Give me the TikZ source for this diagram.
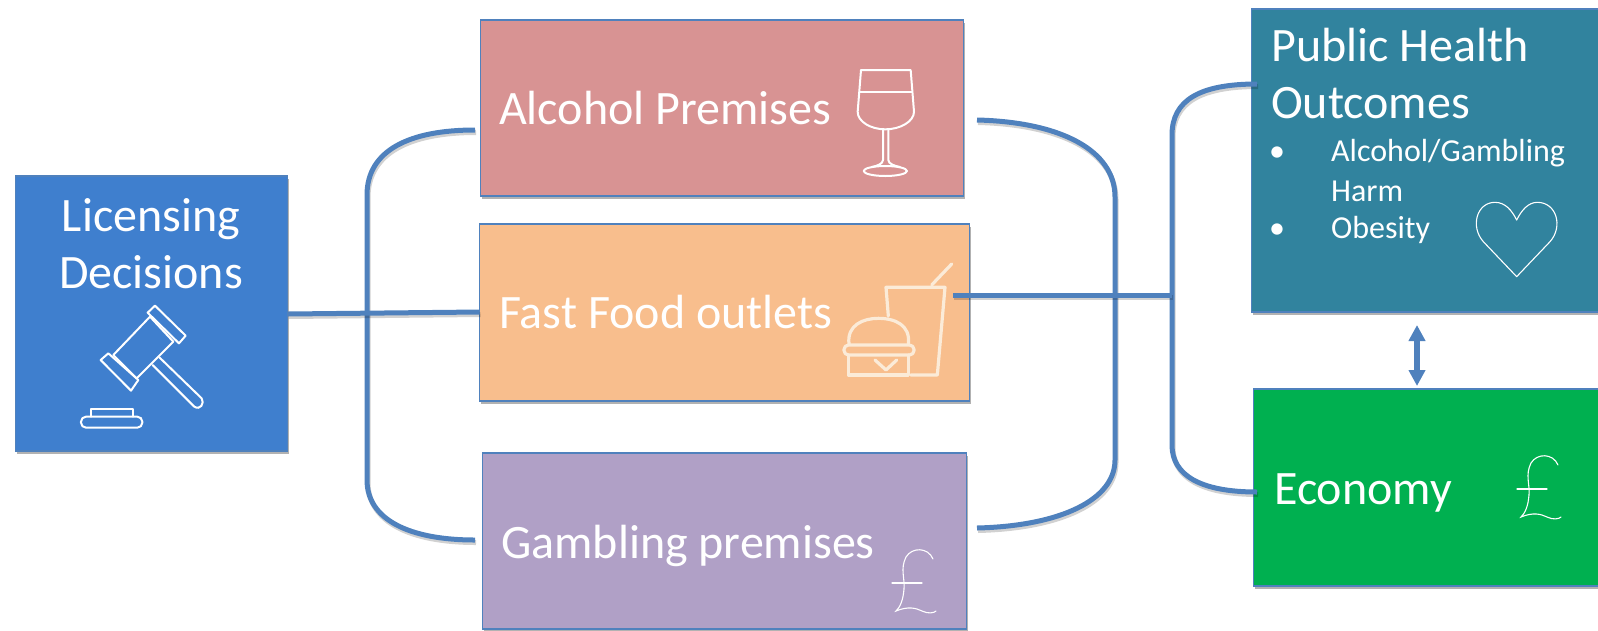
\documentclass[tikz,border=0pt]{standalone}
\usepackage{fontspec}
\setmainfont{Carlito}
\usetikzlibrary{arrows.meta,shadows}
\definecolor{linkblue}{HTML}{4F81BD}
\definecolor{licblue}{HTML}{3F7FCE}
\definecolor{pinkbox}{HTML}{D89393}
\definecolor{orangebox}{HTML}{F8BE8D}
\definecolor{purplebox}{HTML}{B0A0C6}
\definecolor{tealbox}{HTML}{31839E}
\definecolor{greenbox}{HTML}{00B050}
\definecolor{cream}{HTML}{FBEBD8}
\tikzset{
  box/.style={draw=linkblue,line width=1.6pt,inner sep=0pt,outer sep=0pt,anchor=north west,
    drop shadow={shadow xshift=1pt,shadow yshift=-3pt,fill=black,opacity=.3}},
  big/.style={text=white,anchor=base west,inner sep=0pt,font=\fontsize{48}{54}\selectfont},
  bigc/.style={text=white,anchor=base,inner sep=0pt,font=\fontsize{48}{54}\selectfont},
  small/.style={text=white,anchor=base west,inner sep=0pt,font=\fontsize{32}{36}\selectfont},
  link/.style={draw=linkblue,line width=5pt,
    preaction={draw=black,opacity=.18,line width=5pt,transform canvas={xshift=1pt,yshift=-2.5pt}}},
  icon/.style={draw=white,line width=2pt,line join=round,line cap=round},
  thin icon/.style={draw=white,line width=1.1pt,line cap=round},
  pound/.pic={
    \draw[thin icon] (0,0) -- (30,0);
    \draw[thin icon] (41,-24) .. controls (36,-36) and (20,-36) .. (14,-26)
      .. controls (8,-14) and (13,-5) .. (12,6) .. controls (11,18) and (8,24) .. (4,28)
      .. controls (16,23) and (24,25) .. (30,28) .. controls (36,31) and (42,30) .. (44,28);
  }
}
\begin{document}
\begin{tikzpicture}[x=1pt,y=-1pt]
\useasboundingbox (0,0) rectangle (1598,630);
% boxes
\node[box,fill=licblue,minimum width=272pt,minimum height=275pt] (lic) at (15.5,176) {};
\node[box,fill=pinkbox,minimum width=483pt,minimum height=176pt] (alc) at (480.5,20) {};
\node[box,fill=orangebox,minimum width=490pt,minimum height=177pt] (ff) at (479.5,224) {};
\node[box,fill=purplebox,minimum width=484pt,minimum height=176pt] (gam) at (482.5,453) {};
\node[box,fill=tealbox,minimum width=350pt,minimum height=303pt] (ph) at (1251.5,9) {};
\node[box,fill=greenbox,minimum width=350pt,minimum height=197pt] (eco) at (1253.5,389) {};
% connector ends
\coordinate (leftT) at (475,130);
\coordinate (leftB) at (475,540);
\coordinate (rightT) at (977,120);
\coordinate (rightB) at (977,528);
\coordinate (outT) at (1257,84);
\coordinate (outB) at (1257,492);
\coordinate (ffin) at (953,295);
\coordinate (hub) at (1172,295);
\coordinate (arrT) at (1417,325);
\coordinate (arrB) at (1417,386);
% connectors
\draw[link] (leftT) .. controls (410,130) and (367,150) .. (367,195) -- (367,480) .. controls (367,520) and (410,540) .. (leftB);
\draw[link] (rightT) .. controls (1060,122) and (1115,150) .. (1115,197) -- (1115,460) .. controls (1115,500) and (1060,526) .. (rightB);
\draw[link] (outT) .. controls (1200,84) and (1172,100) .. (1172,135) -- (1172,445) .. controls (1172,475) and (1200,492) .. (outB);
\draw[link] (lic.east |- 0,314) -- (ff.west |- 0,312);
\draw[link] (ffin) -- (hub);
\draw[draw=linkblue,line width=5.5pt,{Triangle[width=16pt,length=16pt]}-{Triangle[width=16pt,length=16pt]}] (arrT) -- (arrB);
% text
\node[bigc] (t1) at (151,231.5) {Licensing};
\node[bigc] (t2) at (151,288.5) {Decisions};
\node[big] (t3) at (499,124.5) {Alcohol Premises};
\node[big] (t4) at (499,328.5) {Fast Food outlets};
\node[big] (t5) at (501,558.5) {Gambling premises};
\node[big] (t6) at (1271,61.5) {Public Health};
\node[big] (t7) at (1271,118.5) {Outcomes};
\node[small] (b1) at (1269,161.5) {•};
\node[small] (t8) at (1331,161.5) {Alcohol/Gambling};
\node[small] (t9) at (1331,201) {Harm};
\node[small] (b2) at (1269,238.5) {•};
\node[small] (t10) at (1331,238.5) {Obesity};
\node[big] (t11) at (1274,504) {Economy};
% gavel
\begin{scope}[shift={(0,160)},x=0.33333pt,y=-0.33333pt]
\draw[icon] (450,470) -- (340,585) -- (410,655) -- (520,545) -- cycle;
\draw[icon] (465,437) -- (557,527) -- (537,550) -- (443,458) -- cycle;
\draw[icon] (325,580) -- (415,660) -- (393,692) -- (302,600) -- cycle;
\draw[icon] (478,592) -- (605,715) .. controls (615,730) and (600,752) .. (583,740) -- (458,615);
\draw[icon,rounded corners=5pt] (243,770) rectangle (427,803);
\draw[icon] (272,770) -- (272,747) -- (398,747) -- (398,770);
\end{scope}
% wine glass
\begin{scope}[shift={(780,40)},x=0.33333pt,y=-0.33333pt]
\draw[icon] (243,90) -- (392,90) -- (402,215) .. controls (402,245) and (360,268) .. (316,268) .. controls (272,268) and (233,245) .. (233,215) -- cycle;
\draw[icon] (240,157) -- (396,157);
\draw[icon] (309,268) -- (309,360) .. controls (309,372) and (290,378) .. (275,381);
\draw[icon] (325,268) -- (325,360) .. controls (325,372) and (345,378) .. (360,381);
\draw[icon] (316,393) ellipse [x radius=65,y radius=15];
\end{scope}
% burger and drink
\begin{scope}[shift={(780,40)},x=0.33333pt,y=-0.33333pt]
\begin{scope}[line width=3.2pt,line cap=round,line join=round]
\draw[draw=cream] (325,828) -- (318,742) -- (495,742) -- (472,1005) -- (392,1005);
\draw[draw=cream] (455,735) -- (515,672);
\draw[draw=cream] (207,912) .. controls (200,855) and (250,835) .. (295,835) .. controls (345,835) and (392,855) .. (385,912);
\draw[draw=cream,rounded corners=4.5pt] (192,915) rectangle (402,945);
\draw[draw=cream] (205,945) -- (205,1005) -- (385,1005) -- (385,945);
\draw[draw=cream] (285,960) -- (318,990) -- (350,960);
\end{scope}
\end{scope}
% heart
\begin{scope}[shift={(1200,0)},x=0.33333pt,y=-0.33333pt]
\draw[thin icon,line join=round] (950,830) -- (850,725) .. controls (810,680) and (830,607) .. (885,607) .. controls (915,607) and (935,630) .. (950,660) .. controls (965,630) and (985,607) .. (1012,607) .. controls (1070,607) and (1090,680) .. (1050,725) -- cycle;
\end{scope}
% pound signs
\pic at (1517,489) {pound};
\pic at (892,583) {pound};
\end{tikzpicture}
\end{document}
